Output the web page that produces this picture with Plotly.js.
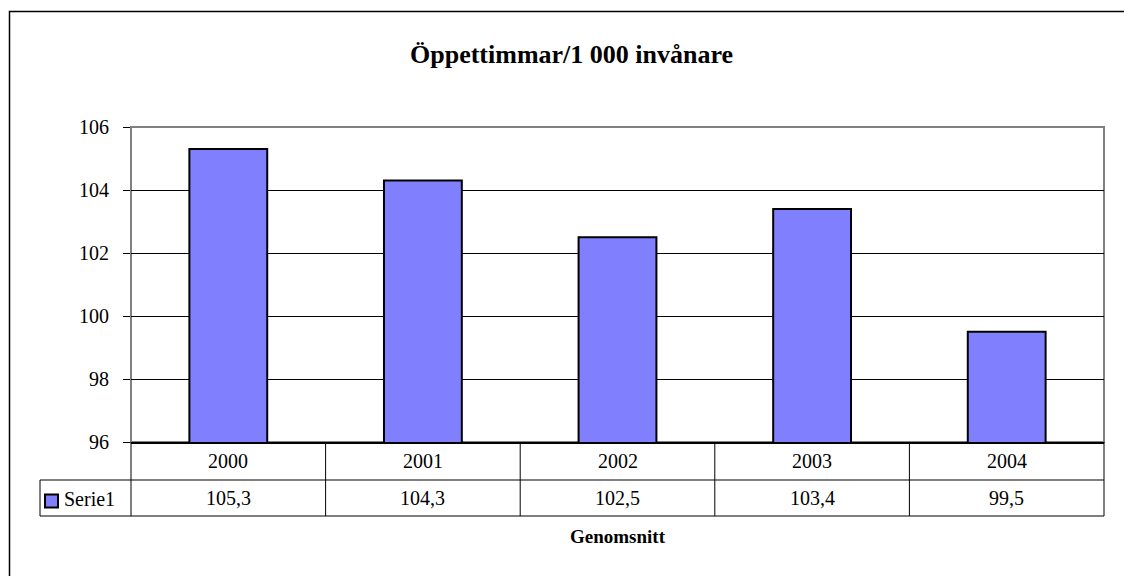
<!DOCTYPE html>
<html>
<head>
<meta charset="utf-8">
<script src="https://cdn.plot.ly/plotly-3.0.1.min.js"></script>
<style>html,body{margin:0;padding:0;background:#fff;}#chart{width:1124px;height:576px;}</style>
</head>
<body>
<div id="chart"></div>
<script>
const categories = ["2000", "2001", "2002", "2003", "2004"];
const values = [105.3, 104.3, 102.5, 103.4, 99.5];
const seriesName = "Serie1";
const yTicks = [96, 98, 100, 102, 104, 106];
const titleText = "Öppettimmar/1 000 invånare";
const tableTitle = "Genomsnitt";

const W = 1124, H = 576;
const L = 131, R = 1104, T = 127, B = 442;
const pw = R - L, ph = B - T;
const px = v => (v - L) / pw;
const py = v => (B - v) / ph;
const FONT = "Liberation Serif";
const fmt = v => v.toFixed(1).replace('.', ',');

const n = categories.length;
const shapes = [];
const annotations = [];

// outer chart border
shapes.push({type:'rect', xref:'paper', yref:'paper', x0:px(9.5), x1:px(1200), y0:py(11.5), y1:py(700), line:{color:'#000', width:1.5}, fillcolor:'rgba(0,0,0,0)'});
// plot area border (gray)
shapes.push({type:'rect', xref:'paper', yref:'paper', x0:0, x1:1, y0:0, y1:1, line:{color:'#808080', width:2}, fillcolor:'rgba(0,0,0,0)', layer:'below'});

// data table lines
const r1 = 480, r2 = 516, legL = 40;
shapes.push({type:'line', xref:'paper', yref:'paper', x0:px(legL), x1:1, y0:py(r1), y1:py(r1), line:{color:'#000', width:1}});
shapes.push({type:'line', xref:'paper', yref:'paper', x0:px(legL), x1:1, y0:py(r2), y1:py(r2), line:{color:'#000', width:1}});
shapes.push({type:'line', xref:'paper', yref:'paper', x0:px(legL), x1:px(legL), y0:py(r1), y1:py(r2), line:{color:'#000', width:1}});
for (let i = 0; i <= n; i++) {
  shapes.push({type:'line', xref:'paper', yref:'paper', x0:i/n, x1:i/n, y0:0, y1:py(r2), line:{color:'#000', width:1}});
}
// legend key
shapes.push({type:'rect', xref:'paper', yref:'paper', x0:px(45), x1:px(58), y0:py(494.5), y1:py(507.5), line:{color:'#000', width:2}, fillcolor:'#8080FF'});

categories.forEach((c, i) => {
  annotations.push({xref:'paper', yref:'paper', x:(i+0.5)/n, y:py(461), text:c, showarrow:false, xanchor:'center', yanchor:'middle', font:{family:FONT, size:20, color:'#000'}});
  annotations.push({xref:'paper', yref:'paper', x:(i+0.5)/n, y:py(498), text:fmt(values[i]), showarrow:false, xanchor:'center', yanchor:'middle', font:{family:FONT, size:20, color:'#000'}});
});
annotations.push({xref:'paper', yref:'paper', x:px(62), y:py(499), text:seriesName, showarrow:false, xanchor:'left', yanchor:'middle', font:{family:FONT, size:20, color:'#000'}});
annotations.push({xref:'paper', yref:'paper', x:0.5, y:py(536), text:'<b>'+tableTitle+'</b>', showarrow:false, xanchor:'center', yanchor:'middle', font:{family:FONT, size:19, color:'#000'}});
annotations.push({xref:'paper', yref:'paper', x:px(571), y:py(55), text:'<b>'+titleText+'</b>', showarrow:false, xanchor:'center', yanchor:'middle', font:{family:FONT, size:26, color:'#000'}});

const trace = {
  type:'bar', x:categories, y:values, name:seriesName,
  marker:{color:'#8080FF', line:{color:'#000', width:2}},
  hoverinfo:'skip'
};

const layout = {
  width:W, height:H,
  margin:{l:L, r:W-R, t:T, b:H-B, pad:0},
  paper_bgcolor:'#fff', plot_bgcolor:'#fff',
  font:{family:FONT, color:'#000'},
  showlegend:false,
  bargap:0.6,
  xaxis:{type:'category', showticklabels:false, ticks:'', showgrid:false, zeroline:false, showline:true, linecolor:'#000', linewidth:2, range:[-0.5, n-0.5], fixedrange:true},
  yaxis:{range:[yTicks[0], yTicks[yTicks.length-1]], tickvals:yTicks, ticktext:yTicks.map(String), ticks:'outside', ticklen:7, tickcolor:'#000', tickwidth:1, ticklabelstandoff:10, showgrid:true, gridcolor:'#000', gridwidth:1, zeroline:false, showline:false, tickfont:{family:FONT, size:20, color:'#000'}, fixedrange:true},
  shapes:shapes,
  annotations:annotations
};

Plotly.newPlot('chart', [trace], layout, {displayModeBar:false, staticPlot:true});
</script>
</body>
</html>
